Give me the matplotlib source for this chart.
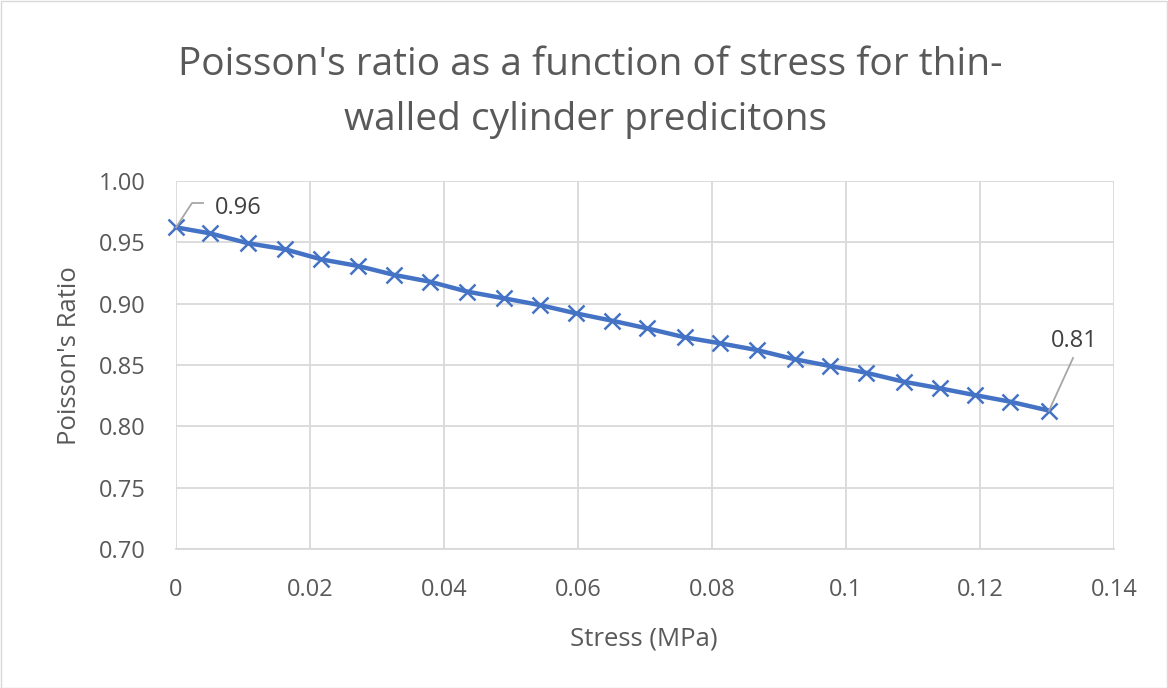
import matplotlib
matplotlib.use("Agg")
import matplotlib.pyplot as plt
from matplotlib.ticker import FixedLocator

plt.rcParams['font.family'] = ['Open Sans', 'DejaVu Sans']

stress = [0.0, 0.0051, 0.0108, 0.0163, 0.0217, 0.0272, 0.0326, 0.0379, 0.0435,
          0.0489, 0.0543, 0.0597, 0.0651, 0.0703, 0.0760, 0.0812, 0.0867, 0.0924,
          0.0976, 0.1030, 0.1086, 0.1140, 0.1192, 0.1245, 0.1303]
poisson = [0.9622, 0.9573, 0.9492, 0.9443, 0.9361, 0.9307, 0.9234, 0.9179, 0.9098,
           0.9044, 0.8989, 0.8921, 0.8861, 0.8799, 0.8725, 0.8677, 0.8622, 0.8546,
           0.8492, 0.8437, 0.8364, 0.8310, 0.8255, 0.8201, 0.8128]
x_ticks = [0, 0.02, 0.04, 0.06, 0.08, 0.1, 0.12, 0.14]
x_labels = ["0", "0.02", "0.04", "0.06", "0.08", "0.1", "0.12", "0.14"]
y_ticks = [0.70, 0.75, 0.80, 0.85, 0.90, 0.95, 1.00]
title_lines = ["Poisson's ratio as a function of stress for thin-",
               "walled cylinder predicitons"]
x_title = "Stress (MPa)"
y_title = "Poisson's Ratio"

W, H = 1168, 688
fig = plt.figure(figsize=(W / 100, H / 100), dpi=100)
ax = fig.add_axes([176 / W, 1 - 549 / H, (1114 - 176) / W, (549 - 181) / H])

txt = '#595959'
grid = '#D9D9D9'
blue = '#4472C4'

ax.plot(stress, poisson, color=blue, lw=3.2, marker='x', ms=11, mew=1.8, zorder=3,
        clip_on=False)
ax.set_xlim(0, 0.14)
ax.set_ylim(0.70, 1.00)
ax.xaxis.set_major_locator(FixedLocator(x_ticks))
ax.set_xticklabels(x_labels)
ax.yaxis.set_major_locator(FixedLocator(y_ticks))
ax.set_yticklabels([f"{v:.2f}" for v in y_ticks])
ax.grid(True, color=grid, lw=1.3)
ax.set_axisbelow(True)
for s in ['top', 'right', 'left']:
    ax.spines[s].set_visible(False)
ax.spines['bottom'].set_color(grid)
ax.spines['bottom'].set_linewidth(1.3)
ax.tick_params(length=0, labelsize=17, labelcolor=txt)
ax.tick_params(axis='x', pad=21)
ax.tick_params(axis='y', pad=22)

def px(x, y):
    return x / W, 1 - y / H

fig.text(*px(644, 646), x_title, ha='center', va='baseline', fontsize=18.5, color=txt)
fig.text(*px(70, 356), y_title, ha='center', va='center', rotation=90,
         fontsize=18.5, color=txt)

fig.text(*px(590, 75), title_lines[0], ha='center', va='baseline', fontsize=28,
         color=txt)
fig.text(*px(586, 130), title_lines[1], ha='center', va='baseline', fontsize=28,
         color=txt)

# data labels
fig.text(*px(215, 214), f"{poisson[0]:.2f}", ha='left', va='baseline',
         fontsize=17, color='#404040')
fig.text(*px(1074, 347), f"{poisson[-1]:.2f}", ha='center', va='baseline',
         fontsize=17, color='#404040')

fig.canvas.draw()
tr = ax.transData
p0 = tr.transform((stress[0], poisson[0]))
p1 = tr.transform((stress[-1], poisson[-1]))
inv = fig.transFigure.inverted()
def line(pts):
    fp = [inv.transform(p) for p in pts]
    fig.add_artist(plt.Line2D([a[0] for a in fp], [a[1] for a in fp],
                              color='#A6A6A6', lw=1.3, transform=fig.transFigure))
line([p0, (p0[0] + 16, H - 203), (p0[0] + 27, H - 203)])
line([p1, (p1[0] + 24, H - 358)])

border = plt.Rectangle((0.5 / W, 0.5 / H), 1 - 1.5 / W, 1 - 1.5 / H, fill=False,
                       edgecolor='#D9D9D9', lw=1, transform=fig.transFigure)
fig.add_artist(border)

fig.savefig("out.png", dpi=100, facecolor='white')
